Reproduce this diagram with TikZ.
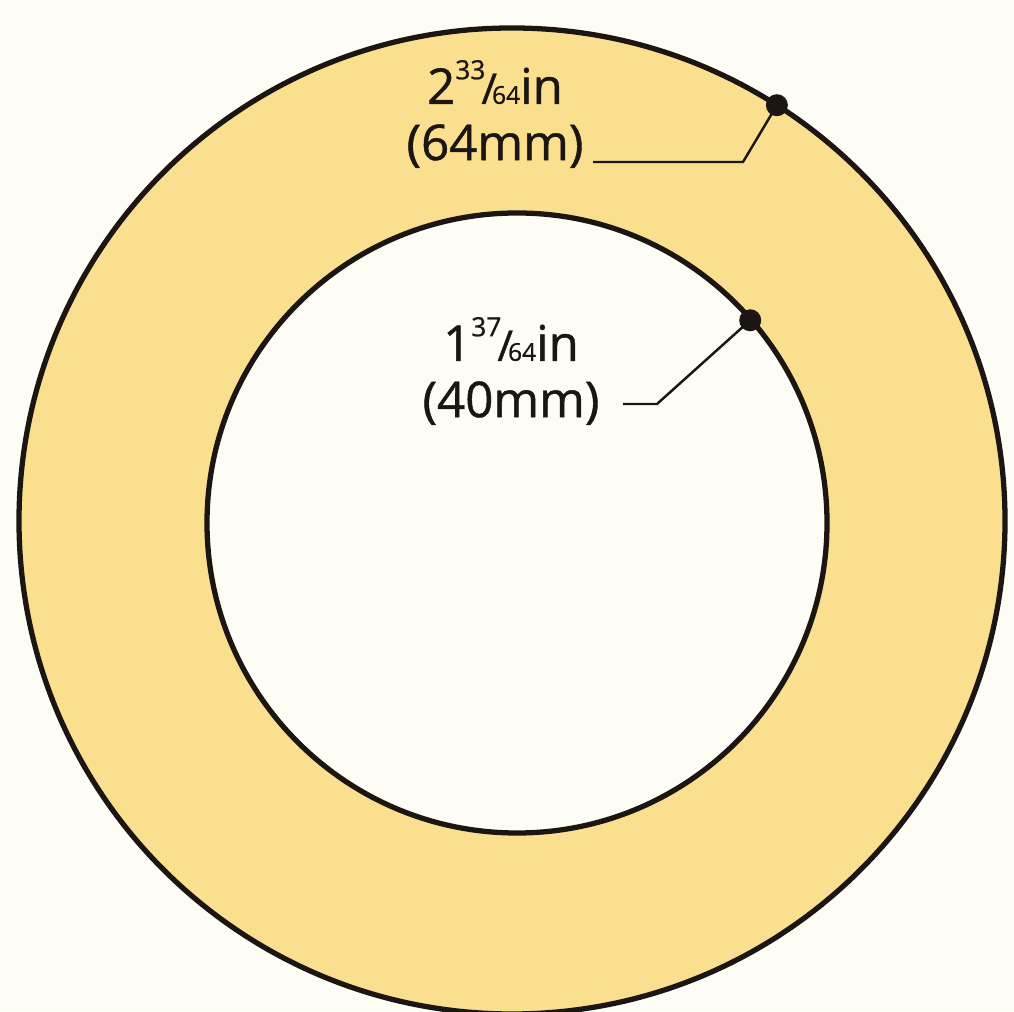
\documentclass[tikz,border=0pt]{standalone}
\usepackage{fontspec}
\setmainfont{Open Sans}
\newfontfamily\lblfont{Open Sans}[FakeBold=0.9]
\usetikzlibrary{positioning,calc}
\definecolor{ringyellow}{RGB}{250,224,142}
\definecolor{paperwhite}{RGB}{253,253,246}
\definecolor{inkdark}{RGB}{28,22,18}
\newcommand{\dimfrac}[2]{\raisebox{.5em}{\fontsize{7.5}{7}\selectfont #1}\kern-.08em{\fontsize{12}{11}\selectfont /}\kern-.1em{\fontsize{7}{7}\selectfont #2}}

\begin{document}
\begin{tikzpicture}[
  ring/.style={draw=inkdark, line width=1.5pt},
  dot/.style={fill=inkdark},
  lead/.style={draw=inkdark, line width=0.7pt},
  lbl/.style={align=center, text=inkdark, font=\lblfont\fontsize{14}{16}\selectfont, inner sep=0pt}]
\useasboundingbox[fill=paperwhite] (0,0) rectangle (10.14,10.11);
\coordinate (oc) at (5.12,4.90);
\coordinate (ic) at (5.17,4.88);
\fill[ringyellow, even odd rule] (oc) circle (4.93) (ic) circle (3.10);
\draw[ring] (oc) circle (4.93);
\draw[ring] (ic) circle (3.10);
\coordinate (od) at ($(oc)+(57.5:4.93)$);
\coordinate (id) at ($(ic)+(41:3.09)$);
\coordinate (ob) at (7.43,8.49);
\coordinate (ib) at (6.57,6.07);
\coordinate (oe) at (5.93,8.49);
\coordinate (ie) at (6.23,6.07);
\node[lbl] (olbl) at (4.95,8.97) {2\dimfrac{33}{64}in\\(64mm)};
\node[lbl] (ilbl) at (5.11,6.40) {1\dimfrac{37}{64}in\\(40mm)};
\draw[lead] (od) -- (ob) -- (oe);
\draw[lead] (id) -- (ib) -- (ie);
\fill[dot] (od) circle (0.11);
\fill[dot] (id) circle (0.11);
\end{tikzpicture}
\end{document}
